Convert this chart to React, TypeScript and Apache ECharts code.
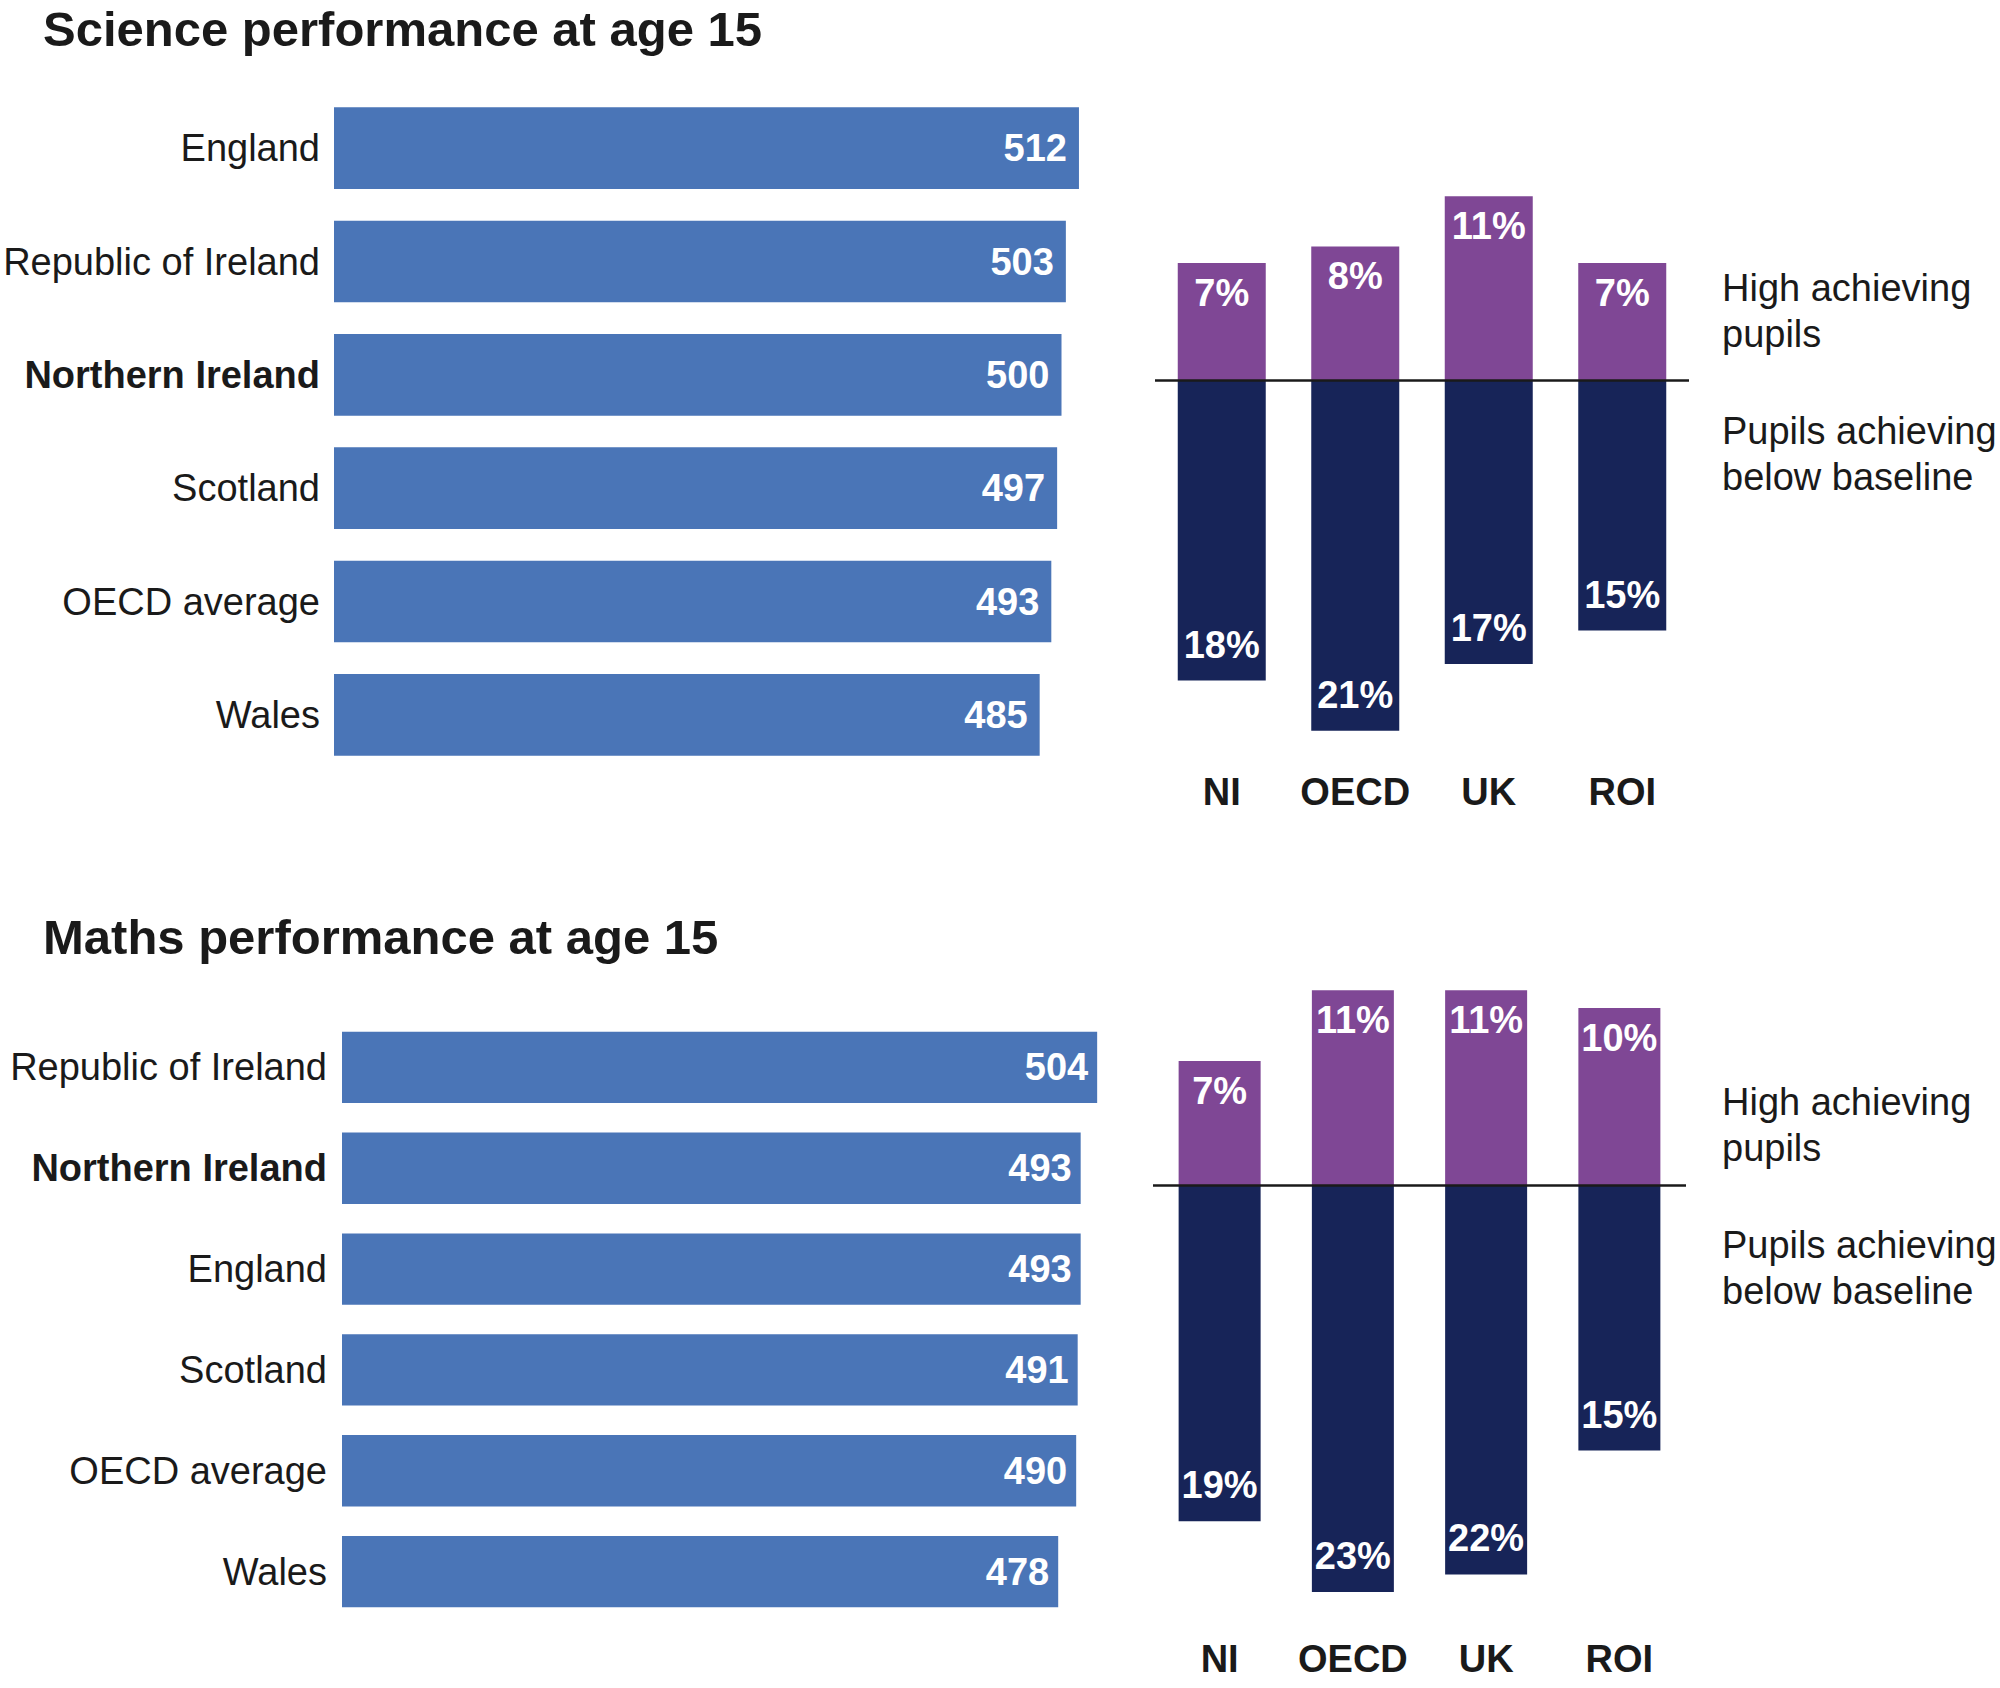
import React, { useEffect, useRef } from "react";
import * as echarts from "echarts";

const FONT = "'Liberation Sans', Arial, Helvetica, sans-serif";
const TEXT = "#1a1a1a";
const BLUE = "#4A75B7";
const PURPLE = "#7F4795";
const NAVY = "#172458";

const scienceTitle = "Science performance at age 15";
const mathsTitle = "Maths performance at age 15";

const scienceCountries = ["England", "Republic of Ireland", "Northern Ireland", "Scotland", "OECD average", "Wales"];
const scienceScores = [512, 503, 500, 497, 493, 485];

const mathsCountries = ["Republic of Ireland", "Northern Ireland", "England", "Scotland", "OECD average", "Wales"];
const mathsScores = [504, 493, 493, 491, 490, 478];

const groups = ["NI", "OECD", "UK", "ROI"];
const scienceHigh = [7, 8, 11, 7];
const scienceLow = [18, 21, 17, 15];
const mathsHigh = [7, 11, 11, 10];
const mathsLow = [19, 23, 22, 15];

const highText = "High achieving\npupils";
const lowText = "Pupils achieving\nbelow baseline";
const highlight = "Northern Ireland";

export default function App() {
  const ref = useRef<HTMLDivElement>(null);
  useEffect(() => {
    if (!ref.current) return;
    const chart = echarts.init(ref.current, null, { renderer: "svg" });

    const leftY = (gridIndex: number, data: string[], margin: number) => ({
      type: "category",
      gridIndex,
      data,
      inverse: true,
      axisLine: { show: false },
      axisTick: { show: false },
      axisLabel: {
        interval: 0,
        margin,
        fontSize: 38,
        fontFamily: FONT,
        color: TEXT,
        formatter: (v: string) => (v === highlight ? `{b|${v}}` : v),
        rich: { b: { fontSize: 38, fontFamily: FONT, color: TEXT, fontWeight: "bold" } },
      },
    });
    const leftX = (gridIndex: number) => ({ type: "value", gridIndex, min: 0, max: 600, show: false });
    const rightX = (gridIndex: number, margin: number) => ({
      type: "category",
      gridIndex,
      data: groups,
      axisLine: { show: false },
      axisTick: { show: false },
      axisLabel: { interval: 0, margin, fontSize: 38, fontWeight: "bold", fontFamily: FONT, color: TEXT },
    });
    const rightY = (gridIndex: number, min: number, max: number) => ({
      type: "value",
      gridIndex,
      min,
      max,
      show: false,
    });

    const leftSeries = (idx: number, data: number[], barWidth: number, dist: number) => ({
      type: "bar",
      xAxisIndex: idx,
      yAxisIndex: idx,
      data,
      barWidth,
      itemStyle: { color: BLUE },
      label: {
        show: true,
        position: "insideRight",
        distance: dist,
        color: "#fff",
        fontSize: 38,
        fontWeight: "bold",
        fontFamily: FONT,
      },
    });

    const rightSeries = (idx: number, high: number[], low: number[], barWidth: number, stack: string) => [
      {
        type: "bar",
        xAxisIndex: idx,
        yAxisIndex: idx,
        stack,
        data: high,
        barWidth,
        itemStyle: { color: PURPLE },
        label: {
          show: true,
          position: "insideTop",
          distance: 11,
          color: "#fff",
          fontSize: 38,
          fontWeight: "bold",
          fontFamily: FONT,
          formatter: (p: any) => `${Math.abs(p.value)}%`,
        },
        markLine: {
          silent: true,
          symbol: "none",
          label: { show: false },
          lineStyle: { color: TEXT, width: 2.5, type: "solid" },
          data: [{ yAxis: 0 }],
          z: 5,
        },
      },
      {
        type: "bar",
        xAxisIndex: idx,
        yAxisIndex: idx,
        stack,
        data: low.map((v) => -v),
        barWidth,
        itemStyle: { color: NAVY },
        label: {
          show: true,
          position: "insideBottom",
          distance: 17,
          color: "#fff",
          fontSize: 38,
          fontWeight: "bold",
          fontFamily: FONT,
          formatter: (p: any) => `${Math.abs(p.value)}%`,
        },
      },
    ];

    const txt = (text: string, x: number, y: number, size: number, bold: boolean, lh: number) => ({
      type: "text",
      x,
      y,
      style: {
        text,
        fontSize: size,
        fontWeight: bold ? "bold" : "normal",
        fontFamily: FONT,
        fill: TEXT,
        lineHeight: lh,
        align: "left",
        verticalAlign: "middle",
      },
    });

    chart.setOption({
      animation: false,
      backgroundColor: "#ffffff",
      grid: [
        { left: 334, top: 91.5, width: 873, height: 680 },
        { left: 1155, top: 179.6, width: 534, height: 567.8 },
        { left: 342, top: 1017, width: 899, height: 605 },
        { left: 1153, top: 972.6, width: 533, height: 637.2 },
      ],
      xAxis: [leftX(0), rightX(1, 26), leftX(2), rightX(3, 30)],
      yAxis: [
        leftY(0, scienceCountries, 14),
        rightY(1, -22, 12),
        leftY(2, mathsCountries, 15),
        rightY(3, -24, 12),
      ],
      series: [
        leftSeries(0, scienceScores, 81.6, 12),
        ...rightSeries(1, scienceHigh, scienceLow, 88, "s"),
        leftSeries(2, mathsScores, 71.4, 9),
        ...rightSeries(3, mathsHigh, mathsLow, 82, "m"),
      ],
      graphic: [
        txt(scienceTitle, 43, 29, 49, true, 49),
        txt(mathsTitle, 43, 937, 49, true, 49),
        txt(highText, 1722, 311, 38, false, 46),
        txt(lowText, 1722, 454, 38, false, 46),
        txt(highText, 1722, 1125, 38, false, 46),
        txt(lowText, 1722, 1268, 38, false, 46),
      ],
    });
    return () => chart.dispose();
  }, []);
  return (
    <div
      ref={ref}
      style={{ position: "absolute", left: 0, top: 0, width: 2000, height: 1688, background: "#fff" }}
    />
  );
}
